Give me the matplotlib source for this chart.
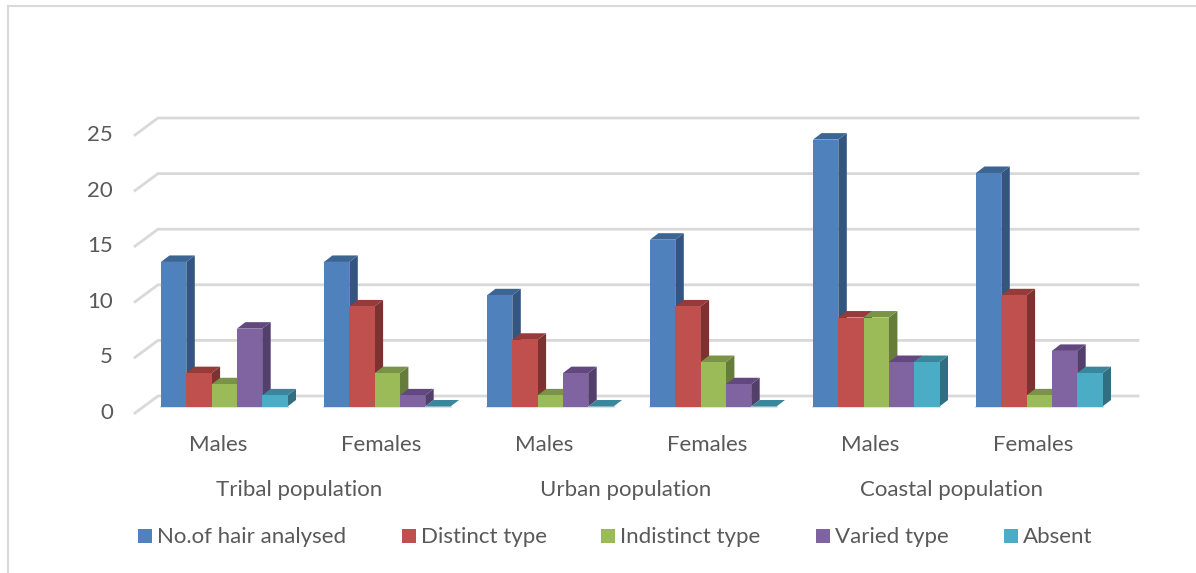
import matplotlib
matplotlib.use('Agg')
import matplotlib.pyplot as plt
from matplotlib.patches import Polygon, Rectangle

plt.rcParams['font.family'] = ['Lato', 'DejaVu Sans']

# ----- data
series = ['No.of hair analysed', 'Distinct type', 'Indistinct type', 'Varied type', 'Absent']
sexes = ['Males', 'Females', 'Males', 'Females', 'Males', 'Females']
populations = ['Tribal population', 'Urban population', 'Coastal population']
hair_analysed = [13, 13, 10, 15, 24, 21]
distinct = [3, 9, 6, 9, 8, 10]
indistinct = [2, 3, 1, 4, 8, 1]
varied = [7, 1, 3, 2, 4, 5]
absent = [1, 0, 0, 0, 4, 3]
y_ticks = [0, 5, 10, 15, 20, 25]

# front, side and top colours of each series
front = ['#4F81BD', '#C0504D', '#9BBB59', '#8064A2', '#4BACC6']
side = ['#33557F', '#7C3230', '#667C3B', '#533F6C', '#306F81']
top = ['#3C6594', '#953B39', '#7A9346', '#62487F', '#3A879B']
text_color = '#595959'
grid_color = '#D9D9D9'

W, H = 1196, 573
fig = plt.figure(figsize=(W / 100, H / 100), dpi=100)
bg = fig.add_axes([0, 0, 1, 1])
bg.set_xlim(0, W)
bg.set_ylim(H, 0)
bg.axis('off')

# chart frame
bg.plot([8, 8], [573, 6], color=grid_color, lw=1.5)
bg.plot([8, 1196], [6, 6], color=grid_color, lw=1.5)

# plot area: one unit on x is one group, one unit on y is one count
px_x, px_y = 163.0, 11.12
x0_px, y0_px = 161.0, 406.5
left, right, bottom, tp = 100, 1160, 425, 100
ax = fig.add_axes([left / W, 1 - bottom / H, (right - left) / W, (bottom - tp) / H])
ax.set_xlim((left - x0_px) / px_x, (right - x0_px) / px_x)
ax.set_ylim((y0_px - bottom) / px_y, (y0_px - tp) / px_y)
ax.axis('off')

bar_w = 25.3 / px_x
dx, dy = 8.5 / px_x, 6.5 / px_y
wall_dx, wall_dy = 23 / px_x, 17 / px_y
wall_x = (135 - x0_px) / px_x
wall_right = (1138 - x0_px) / px_x
back_lift = 10.5 / px_y

# gridlines along the back wall and short slanted ones on the side wall
for v in y_ticks:
    back = v + back_lift
    ax.plot([wall_x, wall_x + wall_dx, wall_right], [back - wall_dy, back, back],
            color=grid_color, lw=2, solid_joinstyle='miter', zorder=1)
    ax.text((113 - x0_px) / px_x, back - wall_dy, str(v), ha='right', va='center',
            fontsize=16, color=text_color, clip_on=False)

# floor edge under the bars
for g in range(len(sexes)):
    ax.plot([g, g + 5 * bar_w], [0, 0], color='#DCE3EC', lw=1.5, zorder=2)

values = [hair_analysed, distinct, indistinct, varied, absent]
z = 3
for g in range(len(sexes)):
    for s in range(len(series)):
        v = values[s][g]
        x = g + s * bar_w
        if v > 0:
            ax.add_patch(Polygon([(x + bar_w, 0), (x + bar_w + dx, dy), (x + bar_w + dx, v + dy), (x + bar_w, v)],
                                 closed=True, fc=side[s], ec='none', zorder=z))
        ax.add_patch(Polygon([(x, v), (x + dx, v + dy), (x + bar_w + dx, v + dy), (x + bar_w, v)],
                             closed=True, fc=top[s], ec='none', zorder=z))
        if v > 0:
            ax.add_patch(Rectangle((x, 0), bar_w, v, fc=front[s], ec='none', zorder=z + 0.5))
        z += 1

# category labels, two levels
for g, name in enumerate(sexes):
    ax.text(g + 2.5 * bar_w - 0.04, (y0_px - 445) / px_y, name, ha='center', va='center',
            fontsize=16, color=text_color, clip_on=False)
for p, name in enumerate(populations):
    ax.text(2 * p + 0.5 + 2.5 * bar_w - 0.04, (y0_px - 490) / px_y, name, ha='center', va='center',
            fontsize=16, color=text_color, clip_on=False)

# legend
legend_x = [138, 402, 601, 816, 1004]
for s, name in enumerate(series):
    bg.add_patch(Rectangle((legend_x[s], 529), 14, 14, fc=front[s], ec='none'))
    bg.text(legend_x[s] + 19, 537, name, ha='left', va='center', fontsize=16, color=text_color)

fig.savefig('out.png', dpi=100)
